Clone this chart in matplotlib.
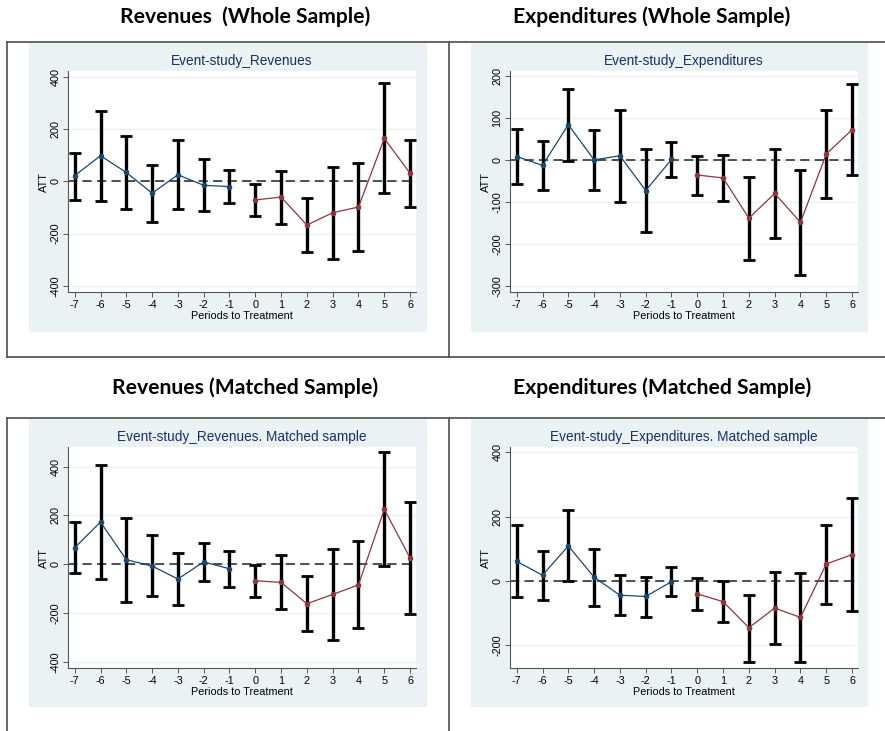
import matplotlib
matplotlib.use("Agg")
import matplotlib.pyplot as plt
from matplotlib.lines import Line2D
from matplotlib.patches import Rectangle
import numpy as np

plt.rcParams["axes.unicode_minus"] = False

# Event-study estimates (ATT) with confidence bounds, periods -7 .. 6
periods = list(range(-7, 7))

rev_att = [22, 98, 34, -45, 25, -15, -20, -71, -60, -167, -120, -98, 164, 31]
rev_hi = [110, 269, 173, 61, 159, 84, 42, -10, 41, -64, 54, 69, 375, 159]
rev_lo = [-70, -74, -106, -154, -107, -113, -84, -134, -163, -271, -296, -268, -46, -97]

exp_att = [8, -13, 84, 0, 10, -73, 1, -36, -43, -139, -80, -149, 14, 72]
exp_hi = [73, 45, 170, 72, 119, 26, 42, 10, 11, -40, 26, -25, 118, 181]
exp_lo = [-58, -72, -2, -72, -100, -173, -40, -83, -99, -239, -187, -274, -90, -37]

rev_m_att = [68, 173, 19, -7, -60, 10, -18, -67, -74, -161, -123, -84, 225, 26]
rev_m_hi = [172, 407, 189, 119, 48, 86, 56, -3, 37, -46, 61, 94, 458, 257]
rev_m_lo = [-37, -60, -155, -131, -168, -67, -91, -132, -183, -274, -308, -262, -5, -204]

exp_m_att = [61, 18, 109, 12, -44, -48, -2, -40, -64, -145, -84, -113, 53, 82]
exp_m_hi = [173, 93, 219, 100, 19, 13, 44, 9, 0, -43, 27, 24, 173, 258]
exp_m_lo = [-50, -60, 0, -76, -105, -112, -48, -91, -127, -251, -197, -251, -70, -93]

section_titles = ["Revenues  (Whole Sample)", "Expenditures (Whole Sample)",
                  "Revenues (Matched Sample)", "Expenditures (Matched Sample)"]
panel_titles = ["Event-study_Revenues", "Event-study_Expenditures",
                "Event-study_Revenues. Matched sample",
                "Event-study_Expenditures. Matched sample"]
y_ticks = [[-400, -200, 0, 200, 400],
           [-300, -200, -100, 0, 100, 200],
           [-400, -200, 0, 200, 400],
           [-200, 0, 200, 400]]
y_limits = [(-423, 422), (-315, 212), (-424, 480), (-270, 416)]

panels = [(rev_att, rev_lo, rev_hi), (exp_att, exp_lo, exp_hi),
          (rev_m_att, rev_m_lo, rev_m_hi), (exp_m_att, exp_m_lo, exp_m_hi)]

W, H = 885, 731
fig = plt.figure(figsize=(W / 100, H / 100), dpi=100)
fig.patch.set_facecolor("white")

BLUE = "#1a476f"
RED = "#90353b"
NAVY = "#1c2d6b"
BG = "#eaf2f3"
FONT = "Liberation Sans"


def fx(x):
    return x / W


def fy(y):
    return 1 - y / H


def hline(y, x0, x1):
    fig.add_artist(Line2D([fx(x0), fx(x1)], [fy(y), fy(y)], color="#4d4d4d", lw=1.2))


def vline(x, y0, y1):
    fig.add_artist(Line2D([fx(x), fx(x)], [fy(y0), fy(y1)], color="#4d4d4d", lw=1.2))


# frames around the panels
hline(42, 7, W)
hline(357, 7, W)
vline(7, 42, 357)
vline(449, 42, 357)
hline(418, 7, W)
vline(7, 418, H)
vline(449, 418, H)

# section headings
heading_pos = [(245, 17), (652, 17), (245, 388), (662, 388)]
for (x, y), t in zip(heading_pos, section_titles):
    fig.text(fx(x), fy(y), t, ha="center", va="center", fontsize=15.2,
             fontweight="bold", family="Lato", color="black")

# graph regions and plot regions (pixel boxes)
graph_boxes = [(29, 43, 427, 332), (471, 43, 868, 332),
               (29, 419, 427, 707), (471, 419, 868, 707)]
plot_boxes = [(68, 71, 416, 292), (510, 71, 858, 292),
              (68, 447, 416, 668), (510, 447, 858, 668)]
subtitle_y = [61, 61, 437, 437]

for i in range(4):
    gx0, gy0, gx1, gy1 = graph_boxes[i]
    fig.add_artist(Rectangle((fx(gx0), fy(gy1)), fx(gx1 - gx0), (gy1 - gy0) / H,
                             facecolor=BG, edgecolor="none", zorder=0))
    px0, py0, px1, py1 = plot_boxes[i]
    ax = fig.add_axes([fx(px0), fy(py1), fx(px1 - px0), (py1 - py0) / H])
    ax.set_facecolor("white")
    ax.set_zorder(1)

    att, lo, hi = panels[i]
    x = np.array(periods)
    att = np.array(att)
    lo = np.array(lo)
    hi = np.array(hi)

    ax.axhline(0, color="#222222", lw=1.1, dashes=(6, 3.5), zorder=2)
    ax.errorbar(x, att, yerr=[att - lo, hi - att], fmt="none", ecolor="black",
                elinewidth=2.4, capsize=4.6, capthick=2.0, zorder=3)
    pre = x < 0
    ax.plot(x[pre], att[pre], color=BLUE, lw=0.9, marker="o", ms=4,
            markeredgewidth=0, zorder=4)
    ax.plot(x[~pre], att[~pre], color=RED, lw=0.9, marker="o", ms=4,
            markeredgewidth=0, zorder=4)

    ax.set_xlim(-7.26, 6.23)
    ax.set_ylim(*y_limits[i])
    ax.set_xticks(periods)
    ax.set_yticks(y_ticks[i])
    ax.grid(axis="y", color=BG, lw=1.0)
    ax.set_axisbelow(True)
    for s in ["top", "right"]:
        ax.spines[s].set_visible(False)
    for s in ["left", "bottom"]:
        ax.spines[s].set_color("#555555")
        ax.spines[s].set_linewidth(0.8)
    ax.tick_params(axis="both", length=3.5, width=0.7, color="#555555",
                   labelsize=7.8, pad=2)
    for lab in ax.get_xticklabels():
        lab.set_family(FONT)
    for lab in ax.get_yticklabels():
        lab.set_family(FONT)
        lab.set_rotation(90)
        lab.set_va("center")
    ax.set_xlabel("Periods to Treatment", fontsize=7.8, family=FONT, labelpad=1)
    ax.set_ylabel("ATT", fontsize=7.8, family=FONT, labelpad=1)

    fig.text(fx((px0 + px1) / 2), fy(subtitle_y[i]), panel_titles[i],
             ha="center", va="center", fontsize=9.8, family=FONT, color=NAVY)

fig.savefig("out.png", dpi=100, facecolor="white")
